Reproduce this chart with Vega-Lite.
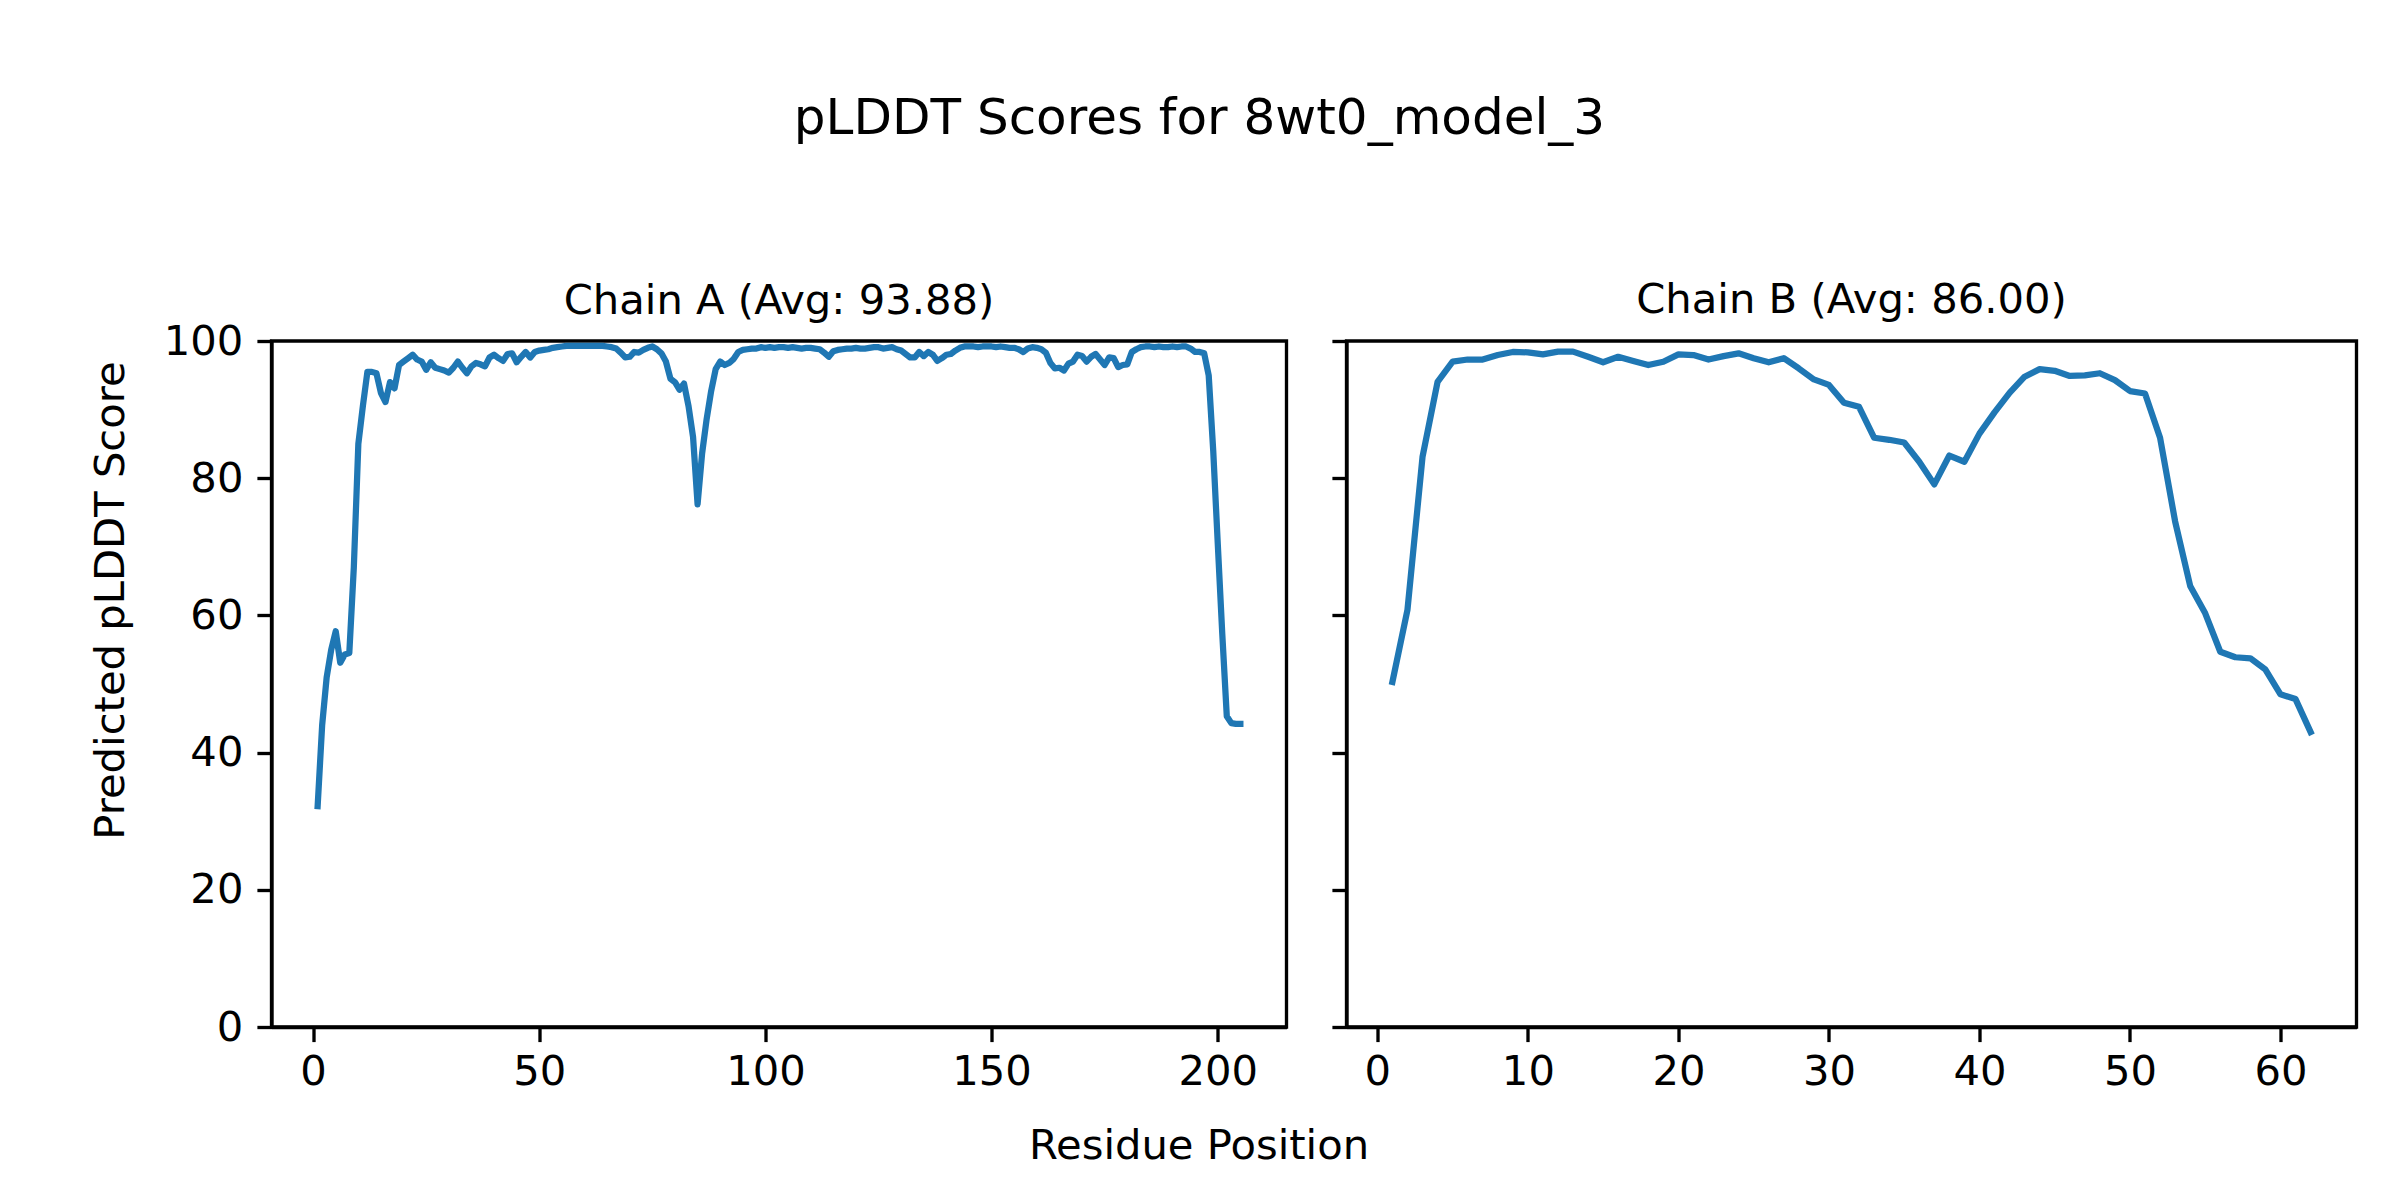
{
  "$schema": "https://vega.github.io/schema/vega-lite/v6.json",
  "background": "white",
  "padding": {"left": 88.5, "top": 93, "right": 0, "bottom": 0},
  "bounds": "flush",
  "spacing": 60,
  "title": {"text": "pLDDT Scores for 8wt0_model_3", "fontSize": 50, "font": "DejaVu Sans", "fontWeight": "normal", "color": "black", "anchor": "middle", "baseline": "alphabetic", "offset": 94.5, "dx": -24},
  "datasets": {
    "A": [
      {"residue":1,"plddt":32.2},{"residue":2,"plddt":44},{"residue":3,"plddt":51},{"residue":4,"plddt":55},{"residue":5,"plddt":57.7},
      {"residue":6,"plddt":53.1},{"residue":7,"plddt":54.3},{"residue":8,"plddt":54.5},{"residue":9,"plddt":67},{"residue":10,"plddt":85},
      {"residue":11,"plddt":90.5},{"residue":12,"plddt":95.5},{"residue":13,"plddt":95.5},{"residue":14,"plddt":95.3},{"residue":15,"plddt":92.4},
      {"residue":16,"plddt":91.1},{"residue":17,"plddt":94},{"residue":18,"plddt":93.1},{"residue":19,"plddt":96.5},{"residue":20,"plddt":97},
      {"residue":21,"plddt":97.5},{"residue":22,"plddt":98},{"residue":23,"plddt":97.3},{"residue":24,"plddt":97},{"residue":25,"plddt":95.8},
      {"residue":26,"plddt":96.9},{"residue":27,"plddt":96.1},{"residue":28,"plddt":95.9},{"residue":29,"plddt":95.7},{"residue":30,"plddt":95.4},
      {"residue":31,"plddt":96.1},{"residue":32,"plddt":97},{"residue":33,"plddt":96.1},{"residue":34,"plddt":95.3},{"residue":35,"plddt":96.3},
      {"residue":36,"plddt":96.8},{"residue":37,"plddt":96.6},{"residue":38,"plddt":96.3},{"residue":39,"plddt":97.6},{"residue":40,"plddt":98},
      {"residue":41,"plddt":97.5},{"residue":42,"plddt":97.1},{"residue":43,"plddt":98.1},{"residue":44,"plddt":98.2},{"residue":45,"plddt":96.9},
      {"residue":46,"plddt":97.7},{"residue":47,"plddt":98.4},{"residue":48,"plddt":97.6},{"residue":49,"plddt":98.4},{"residue":50,"plddt":98.6},
      {"residue":51,"plddt":98.7},{"residue":52,"plddt":98.8},{"residue":53,"plddt":99},{"residue":54,"plddt":99.1},{"residue":55,"plddt":99.2},
      {"residue":56,"plddt":99.3},{"residue":57,"plddt":99.3},{"residue":58,"plddt":99.3},{"residue":59,"plddt":99.3},{"residue":60,"plddt":99.3},
      {"residue":61,"plddt":99.3},{"residue":62,"plddt":99.3},{"residue":63,"plddt":99.3},{"residue":64,"plddt":99.3},{"residue":65,"plddt":99.2},
      {"residue":66,"plddt":99.1},{"residue":67,"plddt":98.9},{"residue":68,"plddt":98.3},{"residue":69,"plddt":97.6},{"residue":70,"plddt":97.7},
      {"residue":71,"plddt":98.4},{"residue":72,"plddt":98.3},{"residue":73,"plddt":98.7},{"residue":74,"plddt":99},{"residue":75,"plddt":99.2},
      {"residue":76,"plddt":98.8},{"residue":77,"plddt":98.2},{"residue":78,"plddt":97},{"residue":79,"plddt":94.5},{"residue":80,"plddt":94},
      {"residue":81,"plddt":92.9},{"residue":82,"plddt":93.8},{"residue":83,"plddt":90.5},{"residue":84,"plddt":86},{"residue":85,"plddt":76.2},
      {"residue":86,"plddt":83.6},{"residue":87,"plddt":88.6},{"residue":88,"plddt":92.7},{"residue":89,"plddt":95.9},{"residue":90,"plddt":97},
      {"residue":91,"plddt":96.5},{"residue":92,"plddt":96.8},{"residue":93,"plddt":97.4},{"residue":94,"plddt":98.4},{"residue":95,"plddt":98.7},
      {"residue":96,"plddt":98.8},{"residue":97,"plddt":98.9},{"residue":98,"plddt":98.9},{"residue":99,"plddt":99.1},{"residue":100,"plddt":99},
      {"residue":101,"plddt":99.1},{"residue":102,"plddt":99},{"residue":103,"plddt":99.1},{"residue":104,"plddt":99.1},{"residue":105,"plddt":99},
      {"residue":106,"plddt":99.1},{"residue":107,"plddt":99},{"residue":108,"plddt":98.9},{"residue":109,"plddt":99},{"residue":110,"plddt":99},
      {"residue":111,"plddt":98.9},{"residue":112,"plddt":98.8},{"residue":113,"plddt":98.3},{"residue":114,"plddt":97.7},{"residue":115,"plddt":98.5},
      {"residue":116,"plddt":98.7},{"residue":117,"plddt":98.8},{"residue":118,"plddt":98.9},{"residue":119,"plddt":98.9},{"residue":120,"plddt":99},
      {"residue":121,"plddt":98.9},{"residue":122,"plddt":98.9},{"residue":123,"plddt":99},{"residue":124,"plddt":99.1},{"residue":125,"plddt":99.1},
      {"residue":126,"plddt":98.9},{"residue":127,"plddt":99},{"residue":128,"plddt":99.1},{"residue":129,"plddt":98.8},{"residue":130,"plddt":98.6},
      {"residue":131,"plddt":98.1},{"residue":132,"plddt":97.6},{"residue":133,"plddt":97.6},{"residue":134,"plddt":98.4},{"residue":135,"plddt":97.8},
      {"residue":136,"plddt":98.4},{"residue":137,"plddt":98},{"residue":138,"plddt":97.1},{"residue":139,"plddt":97.5},{"residue":140,"plddt":98},
      {"residue":141,"plddt":98.1},{"residue":142,"plddt":98.6},{"residue":143,"plddt":99},{"residue":144,"plddt":99.2},{"residue":145,"plddt":99.2},
      {"residue":146,"plddt":99.2},{"residue":147,"plddt":99.1},{"residue":148,"plddt":99.2},{"residue":149,"plddt":99.2},{"residue":150,"plddt":99.2},
      {"residue":151,"plddt":99.1},{"residue":152,"plddt":99.2},{"residue":153,"plddt":99.1},{"residue":154,"plddt":99},{"residue":155,"plddt":99},
      {"residue":156,"plddt":98.8},{"residue":157,"plddt":98.4},{"residue":158,"plddt":98.9},{"residue":159,"plddt":99.1},{"residue":160,"plddt":99},
      {"residue":161,"plddt":98.8},{"residue":162,"plddt":98.3},{"residue":163,"plddt":96.8},{"residue":164,"plddt":96},{"residue":165,"plddt":96.1},
      {"residue":166,"plddt":95.7},{"residue":167,"plddt":96.7},{"residue":168,"plddt":97},{"residue":169,"plddt":98},{"residue":170,"plddt":97.8},
      {"residue":171,"plddt":97},{"residue":172,"plddt":97.7},{"residue":173,"plddt":98.1},{"residue":174,"plddt":97.3},{"residue":175,"plddt":96.5},
      {"residue":176,"plddt":97.6},{"residue":177,"plddt":97.5},{"residue":178,"plddt":96.2},{"residue":179,"plddt":96.5},{"residue":180,"plddt":96.6},
      {"residue":181,"plddt":98.4},{"residue":182,"plddt":98.8},{"residue":183,"plddt":99.1},{"residue":184,"plddt":99.2},{"residue":185,"plddt":99.2},
      {"residue":186,"plddt":99.1},{"residue":187,"plddt":99.2},{"residue":188,"plddt":99.1},{"residue":189,"plddt":99.1},{"residue":190,"plddt":99.2},
      {"residue":191,"plddt":99.1},{"residue":192,"plddt":99.2},{"residue":193,"plddt":99.2},{"residue":194,"plddt":98.9},{"residue":195,"plddt":98.4},
      {"residue":196,"plddt":98.4},{"residue":197,"plddt":98.2},{"residue":198,"plddt":95},{"residue":199,"plddt":84},{"residue":200,"plddt":70.5},
      {"residue":201,"plddt":57.3},{"residue":202,"plddt":45.3},{"residue":203,"plddt":44.3},{"residue":204,"plddt":44.2},{"residue":205,"plddt":44.2}
    ],
    "B": [
      {"residue":1,"plddt":50.3},{"residue":2,"plddt":60.8},{"residue":3,"plddt":83.1},{"residue":4,"plddt":94.05},{"residue":5,"plddt":96.98},
      {"residue":6,"plddt":97.3},{"residue":7,"plddt":97.3},{"residue":8,"plddt":97.95},{"residue":9,"plddt":98.4},{"residue":10,"plddt":98.35},
      {"residue":11,"plddt":98.05},{"residue":12,"plddt":98.45},{"residue":13,"plddt":98.45},{"residue":14,"plddt":97.7},{"residue":15,"plddt":96.9},
      {"residue":16,"plddt":97.7},{"residue":17,"plddt":97.1},{"residue":18,"plddt":96.5},{"residue":19,"plddt":96.98},{"residue":20,"plddt":98.05},
      {"residue":21,"plddt":97.95},{"residue":22,"plddt":97.3},{"residue":23,"plddt":97.8},{"residue":24,"plddt":98.2},{"residue":25,"plddt":97.5},
      {"residue":26,"plddt":96.9},{"residue":27,"plddt":97.5},{"residue":28,"plddt":96.0},{"residue":29,"plddt":94.4},{"residue":30,"plddt":93.6},
      {"residue":31,"plddt":91.0},{"residue":32,"plddt":90.4},{"residue":33,"plddt":85.9},{"residue":34,"plddt":85.6},{"residue":35,"plddt":85.2},
      {"residue":36,"plddt":82.4},{"residue":37,"plddt":79.1},{"residue":38,"plddt":83.3},{"residue":39,"plddt":82.4},{"residue":40,"plddt":86.5},
      {"residue":41,"plddt":89.6},{"residue":42,"plddt":92.45},{"residue":43,"plddt":94.8},{"residue":44,"plddt":95.9},{"residue":45,"plddt":95.66},
      {"residue":46,"plddt":94.9},{"residue":47,"plddt":95.0},{"residue":48,"plddt":95.3},{"residue":49,"plddt":94.3},{"residue":50,"plddt":92.7},
      {"residue":51,"plddt":92.35},{"residue":52,"plddt":85.9},{"residue":53,"plddt":73.7},{"residue":54,"plddt":64.3},{"residue":55,"plddt":60.3},
      {"residue":56,"plddt":54.7},{"residue":57,"plddt":53.9},{"residue":58,"plddt":53.75},{"residue":59,"plddt":52.1},{"residue":60,"plddt":48.5},
      {"residue":61,"plddt":47.8},{"residue":62,"plddt":43.0}
    ]
  },
  "hconcat": [
    {
      "data": {"name": "A"},
      "width": 1015,
      "height": 686,
      "title": {"text": "Chain A (Avg: 93.88)", "baseline": "alphabetic", "offset": -34.5},
      "mark": {"type": "line", "color": "#1f77b4", "strokeWidth": 6.25, "strokeJoin": "round", "strokeCap": "square"},
      "encoding": {
        "x": {"field": "residue", "type": "quantitative", "scale": {"domain": [-9.2, 215.2], "nice": false, "zero": false},
              "axis": {"values": [0, 50, 100, 150, 200], "title": "Residue Position", "titleX": 927, "titleY": 131, "titleAnchor": null, "titleAlign": "center", "titleBaseline": "alphabetic"}},
        "y": {"field": "plddt", "type": "quantitative", "scale": {"domain": [0, 100], "nice": false, "zero": false},
              "axis": {"values": [0, 20, 40, 60, 80, 100], "title": "Predicted pLDDT Score", "titleX": -148, "titleY": 259, "titleAngle": 270, "titleAlign": "center", "titleBaseline": "alphabetic"}}
      }
    },
    {
      "data": {"name": "B"},
      "width": 1010,
      "height": 686,
      "title": {"text": "Chain B (Avg: 86.00)", "baseline": "alphabetic", "offset": -15.5},
      "mark": {"type": "line", "color": "#1f77b4", "strokeWidth": 6.25, "strokeJoin": "round", "strokeCap": "square"},
      "encoding": {
        "x": {"field": "residue", "type": "quantitative", "scale": {"domain": [-2.05, 65.05], "nice": false, "zero": false},
              "axis": {"values": [0, 10, 20, 30, 40, 50, 60], "title": null}},
        "y": {"field": "plddt", "type": "quantitative", "scale": {"domain": [0, 100], "nice": false, "zero": false},
              "axis": {"values": [0, 20, 40, 60, 80, 100], "title": null, "labels": false}}
      }
    }
  ],
  "config": {
    "font": "DejaVu Sans",
    "view": {"stroke": "black", "strokeWidth": 3.33},
    "title": {"fontSize": 41.7, "fontWeight": "normal", "font": "DejaVu Sans", "color": "black"},
    "axis": {
      "grid": false,
      "domain": true,
      "domainColor": "black",
      "domainWidth": 3.33,
      "ticks": true,
      "tickColor": "black",
      "tickWidth": 3.33,
      "tickSize": 14.6,
      "labelFont": "DejaVu Sans",
      "labelFontSize": 41.7,
      "labelColor": "black",
      "titleFont": "DejaVu Sans",
      "titleFontSize": 41.7,
      "titleFontWeight": "normal",
      "titleColor": "black",
      "labelFlush": false,
      "labelOverlap": false
    },
    "axisX": {"labelPadding": 10},
    "axisY": {"labelPadding": 14}
  }
}
